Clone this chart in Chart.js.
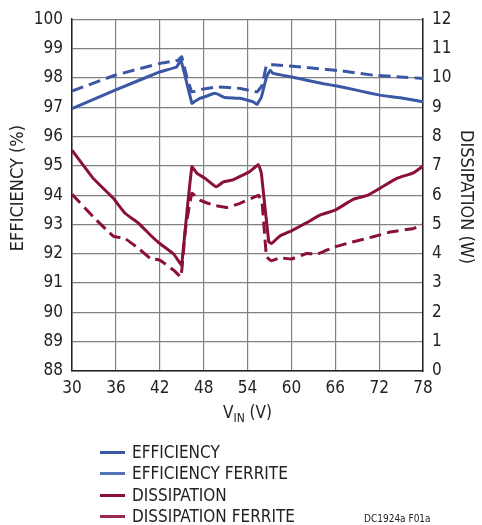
<!DOCTYPE html>
<html>
<head>
<meta charset="utf-8">
<script src="https://cdn.jsdelivr.net/npm/chart.js@4"></script>
<style>
  html, body { margin: 0; padding: 0; background: #fff; }
  #wrap { position: relative; width: 482px; height: 525px; }
  #legend { position: absolute; left: 100px; top: 442px; font-family: 'Liberation Sans Narrow', 'DejaVu Sans Condensed', 'Roboto', sans-serif; font-size: 17px; color: #222; }
  .row { position: absolute; left: 0; height: 20px; white-space: nowrap; }
  .row i { position: absolute; left: 0; top: 9px; width: 25px; height: 3px; }
  .row span { position: absolute; left: 32px; top: 0; line-height: 20px; }
  #note { position: absolute; left: 364px; top: 513px; font-family: 'Liberation Sans Narrow', 'DejaVu Sans Condensed', sans-serif; font-size: 10px; color: #222; }
</style>
</head>
<body>
<div id="wrap">
  <canvas id="chart" width="482" height="525"></canvas>
  <div id="legend">
    <div class="row" style="top:0"><i style="background:#3b58a6"></i><span>EFFICIENCY</span></div>
    <div class="row" style="top:21px"><i style="background:#5673b8"></i><span>EFFICIENCY FERRITE</span></div>
    <div class="row" style="top:43px"><i style="background:#8a1034"></i><span>DISSIPATION</span></div>
    <div class="row" style="top:64px"><i style="background:#9b2a4a"></i><span>DISSIPATION FERRITE</span></div>
  </div>
  <div id="note">DC1924a F01a</div>
</div>
<script>
/* valori */
const vinEff = [30, 35.9, 42.0, 44.3, 44.9, 46.4, 46.8, 47.5, 49.6, 50.9, 53.0, 54.8, 55.3, 55.9, 56.6, 57.1, 57.5, 60.0, 62.1, 64.4, 66.2, 68.9, 72.1, 74.9, 78];
const efficiency = [96.95, 97.58, 98.2, 98.37, 98.6, 97.13, 97.2, 97.3, 97.47, 97.33, 97.3, 97.18, 97.09, 97.35, 98.03, 98.26, 98.15, 98.03, 97.92, 97.8, 97.72, 97.58, 97.41, 97.32, 97.18];

const vinEffFerrite = [30, 35.9, 42.0, 44.5, 45.0, 45.7, 46.4, 47.5, 49.8, 53.0, 55.3, 56.0, 56.6, 57.5, 62.1, 66.7, 71.2, 74.9, 78];
const efficiencyFerrite = [97.55, 98.09, 98.49, 98.6, 98.72, 98.03, 97.52, 97.6, 97.69, 97.64, 97.52, 97.75, 98.43, 98.45, 98.35, 98.24, 98.09, 98.03, 97.98];

const vinDiss = [30, 32.9, 35.65, 37.25, 39.1, 40.7, 42.0, 43.9, 44.8, 45.0, 45.7, 46.4, 47.1, 48.2, 49.7, 50.7, 52.1, 54.3, 55.5, 55.9, 56.9, 57.3, 58.4, 60.0, 62.1, 63.9, 66.0, 68.5, 70.5, 72.1, 74.4, 76.7, 78];
const dissipation = [7.53, 6.57, 5.89, 5.38, 5.04, 4.64, 4.35, 3.99, 3.67, 3.61, 5.38, 6.97, 6.74, 6.57, 6.28, 6.45, 6.53, 6.8, 7.04, 6.74, 4.41, 4.35, 4.6, 4.78, 5.06, 5.32, 5.49, 5.86, 6.0, 6.23, 6.57, 6.76, 6.99];

const vinDissFerrite = [30, 32.9, 35.65, 37.25, 39.1, 40.7, 42.0, 43.9, 44.9, 45.5, 46.4, 47.5, 49.3, 51.2, 53.0, 55.3, 55.5, 56.0, 56.6, 57.3, 58.4, 60.0, 62.1, 63.5, 66.0, 68.5, 71.2, 73.7, 76.7, 78];
const dissipationFerrite = [6.03, 5.26, 4.6, 4.52, 4.18, 3.84, 3.78, 3.44, 3.21, 4.81, 6.06, 5.83, 5.66, 5.58, 5.72, 5.97, 6.0, 5.72, 3.9, 3.76, 3.86, 3.82, 4.01, 3.98, 4.24, 4.41, 4.58, 4.75, 4.86, 5.0];

const BLU = "#3b58a6";
const ROSSO = "#8a1034";
const FONT = "'Liberation Sans Narrow', 'DejaVu Sans Condensed', 'Roboto', sans-serif";

function pts(xs, ys) {
  return xs.map((x, i) => ({ x, y: ys[i] }));
}

/* titoli degli assi disegnati a mano */
const titoli = {
  id: "titoli",
  afterDraw(chart) {
    const ctx = chart.ctx;
    const a = chart.chartArea;
    ctx.save();
    ctx.fillStyle = "#222";
    ctx.textBaseline = "middle";
    ctx.textAlign = "center";
    ctx.font = "18px " + FONT;

    ctx.save();
    ctx.translate(18, (a.top + a.bottom) / 2 - 7);
    ctx.rotate(-Math.PI / 2);
    ctx.fillText("EFFICIENCY (%)", 0, 0);
    ctx.restore();

    ctx.save();
    ctx.translate(466, (a.top + a.bottom) / 2 + 2);
    ctx.rotate(Math.PI / 2);
    ctx.fillText("DISSIPATION (W)", 0, 0);
    ctx.restore();

    // V con pedice IN
    const cx = (a.left + a.right) / 2;
    const y = 414;
    ctx.textAlign = "left";
    ctx.font = "17px " + FONT;
    const wV = ctx.measureText("V").width;
    const wRest = ctx.measureText(" (V)").width;
    ctx.font = "12px " + FONT;
    const wIn = ctx.measureText("IN").width;
    let x0 = cx - (wV + wIn + wRest) / 2;
    ctx.font = "17px " + FONT;
    ctx.fillText("V", x0, y);
    ctx.font = "12px " + FONT;
    ctx.fillText("IN", x0 + wV, y + 5);
    ctx.font = "17px " + FONT;
    ctx.fillText(" (V)", x0 + wV + wIn, y);
    ctx.restore();
  }
};

new Chart(document.getElementById("chart"), {
  type: "line",
  data: {
    datasets: [
      {
        label: "EFFICIENCY",
        data: pts(vinEff, efficiency),
        borderColor: BLU,
        borderWidth: 3,
        yAxisID: "y",
        tension: 0.08
      },
      {
        label: "EFFICIENCY FERRITE",
        data: pts(vinEffFerrite, efficiencyFerrite),
        borderColor: BLU,
        borderWidth: 3,
        borderDash: [12, 6],
        yAxisID: "y",
        tension: 0.08
      },
      {
        label: "DISSIPATION",
        data: pts(vinDiss, dissipation),
        borderColor: ROSSO,
        borderWidth: 3,
        yAxisID: "y1",
        tension: 0.08
      },
      {
        label: "DISSIPATION FERRITE",
        data: pts(vinDissFerrite, dissipationFerrite),
        borderColor: ROSSO,
        borderWidth: 3,
        borderDash: [12, 6],
        yAxisID: "y1",
        tension: 0.08
      }
    ]
  },
  options: {
    responsive: false,
    animation: false,
    elements: { point: { radius: 0 } },
    layout: { padding: { top: 19, left: 0, right: 0, bottom: 0 } },
    plugins: { legend: { display: false }, tooltip: { enabled: false } },
    scales: {
      x: {
        type: "linear",
        min: 30,
        max: 78,
        afterFit(s) { s.height = 154; },
        ticks: { stepSize: 6, color: "#222", font: { family: FONT, size: 17 }, padding: 7, maxRotation: 0 },
        grid: { color: "#808080", lineWidth: 1.2, drawTicks: false },
        border: { color: "#222", width: 1.5 }
      },
      y: {
        position: "left",
        min: 88,
        max: 100,
        afterFit(s) { s.width = 72; },
        ticks: { stepSize: 1, color: "#222", font: { family: FONT, size: 17 }, padding: 9 },
        grid: { color: "#808080", lineWidth: 1.2, drawTicks: false },
        border: { color: "#222", width: 1.5 }
      },
      y1: {
        position: "right",
        min: 0,
        max: 12,
        afterFit(s) { s.width = 59; },
        ticks: { stepSize: 1, color: "#222", font: { family: FONT, size: 17 }, padding: 9 },
        grid: { display: false, drawTicks: false },
        border: { color: "#222", width: 1.5 }
      }
    }
  },
  plugins: [titoli]
});
</script>
</body>
</html>
